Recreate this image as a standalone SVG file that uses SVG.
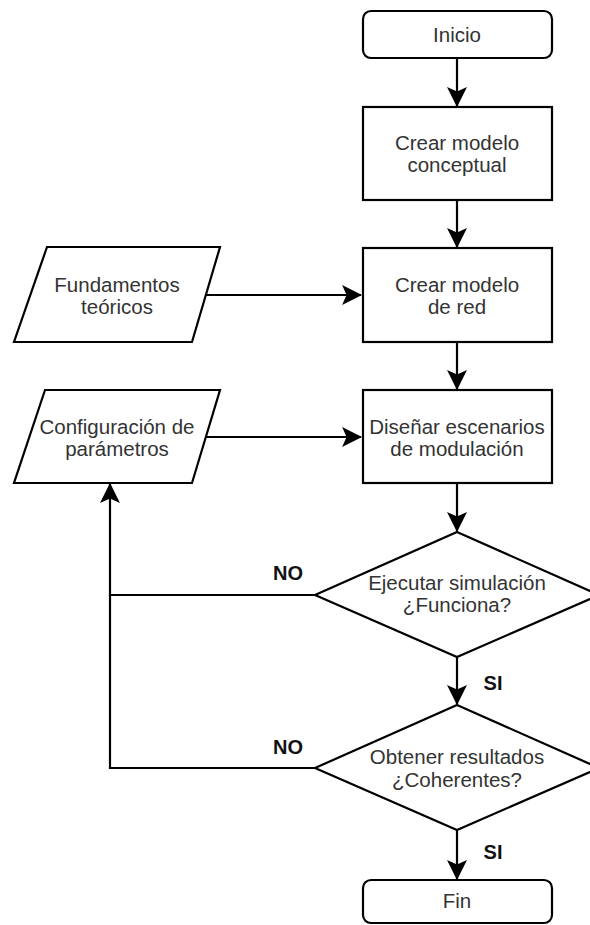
<svg xmlns="http://www.w3.org/2000/svg" width="590" height="925" viewBox="0 0 590 925">
<style>
.s{fill:#fff;stroke:#000;stroke-width:2.2}
.t{font-family:"Liberation Sans",Arial,sans-serif;font-size:20.5px;fill:#333;text-anchor:middle}
.l{font-family:"Liberation Sans",Arial,sans-serif;font-size:20px;font-weight:bold;fill:#111;text-anchor:middle}
.c{fill:none;stroke:#000;stroke-width:2.2}
</style>
<defs>
<marker id="a" markerUnits="userSpaceOnUse" markerWidth="20" markerHeight="20" viewBox="0 0 18 18" refX="17" refY="9" orient="auto">
<path d="M0,0 L18,9 L0,18 L4,9 z" fill="#000"/>
</marker>
</defs>
<rect width="590" height="925" fill="#fff"/>
<g id="connectors">
<path class="c" d="M457,58 V106" marker-end="url(#a)"/>
<path class="c" d="M457,200 V247" marker-end="url(#a)"/>
<path class="c" d="M457,342 V389" marker-end="url(#a)"/>
<path class="c" d="M457,483 V531" marker-end="url(#a)"/>
<path class="c" d="M457,657 V704" marker-end="url(#a)"/>
<path class="c" d="M457,830 V879" marker-end="url(#a)"/>
<path class="c" d="M206,295 H361" marker-end="url(#a)"/>
<path class="c" d="M206,437 H361" marker-end="url(#a)"/>
<path class="c" d="M315,595 H110 V484" marker-end="url(#a)"/>
<path class="c" d="M315,768 H110 V595"/>
<text class="l" x="288" y="580">NO</text>
<text class="l" x="288" y="754">NO</text>
<text class="l" x="493" y="690">SI</text>
<text class="l" x="493" y="859">SI</text>
</g>
<g id="inicio">
<rect class="s" x="363" y="11" width="189" height="47" rx="8"/>
<text class="t" x="457" y="42">Inicio</text>
</g>
<g id="conceptual">
<rect class="s" x="363" y="107" width="189" height="93"/>
<text class="t" x="457" y="150">Crear modelo</text>
<text class="t" x="457" y="172">conceptual</text>
</g>
<g id="red">
<rect class="s" x="363" y="248" width="189" height="94"/>
<text class="t" x="457" y="292">Crear modelo</text>
<text class="t" x="457" y="314">de red</text>
</g>
<g id="disenar">
<rect class="s" x="363" y="390" width="189" height="93"/>
<text class="t" x="457" y="434">Diseñar escenarios</text>
<text class="t" x="457" y="456">de modulación</text>
</g>
<g id="fundamentos">
<polygon class="s" points="47,247 220,247 192,342 14,342"/>
<text class="t" x="117" y="292">Fundamentos</text>
<text class="t" x="117" y="314">teóricos</text>
</g>
<g id="configuracion">
<polygon class="s" points="45,390 220,390 192,483 14,483"/>
<text class="t" x="117" y="434">Configuración de</text>
<text class="t" x="117" y="456">parámetros</text>
</g>
<g id="ejecutar">
<polygon class="s" points="457,532 599,595 457,657 315,595"/>
<text class="t" x="457" y="590">Ejecutar simulación</text>
<text class="t" x="457" y="612">¿Funciona?</text>
</g>
<g id="obtener">
<polygon class="s" points="457,705 599,768 457,830 315,768"/>
<text class="t" x="457" y="764">Obtener resultados</text>
<text class="t" x="457" y="787">¿Coherentes?</text>
</g>
<g id="fin">
<rect class="s" x="363" y="880" width="189" height="43" rx="8"/>
<text class="t" x="457" y="908">Fin</text>
</g>
</svg>
